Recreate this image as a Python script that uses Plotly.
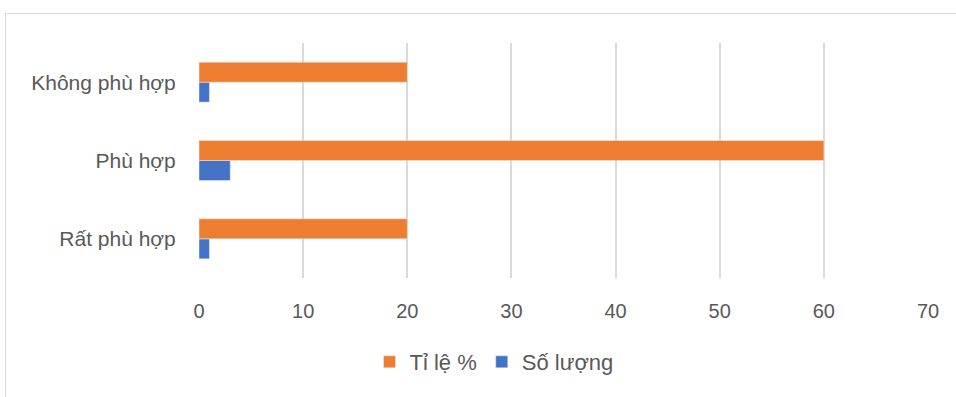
import plotly.graph_objects as go

categories = ["Rất phù hợp", "Phù hợp", "Không phù hợp"]
ti_le = [20, 60, 20]
so_luong = [1, 3, 1]
x_ticks = [0, 10, 20, 30, 40, 50, 60, 70]

L, R, T, B = 199, 28, 43, 119
W, H = 956, 397
pw = W - L - R
ph = H - T - B

def px_x(p):
    return (p - L) / pw

def px_y(p):
    return (H - B - p) / ph

fig = go.Figure()
fig.add_trace(go.Bar(y=categories, x=so_luong, orientation="h", name="Số lượng",
                     marker=dict(color="#4472C4"), legendrank=2))
fig.add_trace(go.Bar(y=categories, x=ti_le, orientation="h", name="Tỉ lệ %",
                     marker=dict(color="#ED7D31"), legendrank=1))

fig.update_layout(
    width=W, height=H,
    margin=dict(l=L, r=R, t=T, b=B),
    paper_bgcolor="white", plot_bgcolor="white",
    barmode="group", bargap=0.49, bargroupgap=0,
    font=dict(family="Liberation Sans, Arial, sans-serif", color="#595959", size=20),
    legend=dict(orientation="h", x=px_x(494), xanchor="center", y=px_y(362), yanchor="middle",
                font=dict(size=22, color="#595959"), itemwidth=30, tracegroupgap=0),
    xaxis=dict(range=[0, 70], tickvals=x_ticks, showgrid=True, gridcolor="#d9d9d9",
               gridwidth=1.5, zeroline=False, showline=False,
               ticks="outside", ticklen=15, tickcolor="rgba(0,0,0,0)",
               tickfont=dict(size=20, color="#595959")),
    yaxis=dict(showgrid=False, zeroline=False, showline=False,
               ticks="outside", ticklen=18, tickcolor="rgba(0,0,0,0)",
               tickfont=dict(size=21, color="#595959")),
    shapes=[dict(type="rect", xref="paper", yref="paper",
                 x0=px_x(5.5), x1=px_x(970), y0=px_y(410), y1=px_y(13.5),
                 line=dict(color="#d9d9d9", width=1), fillcolor="rgba(0,0,0,0)", layer="below")],
)

fig.write_html("out.html")
